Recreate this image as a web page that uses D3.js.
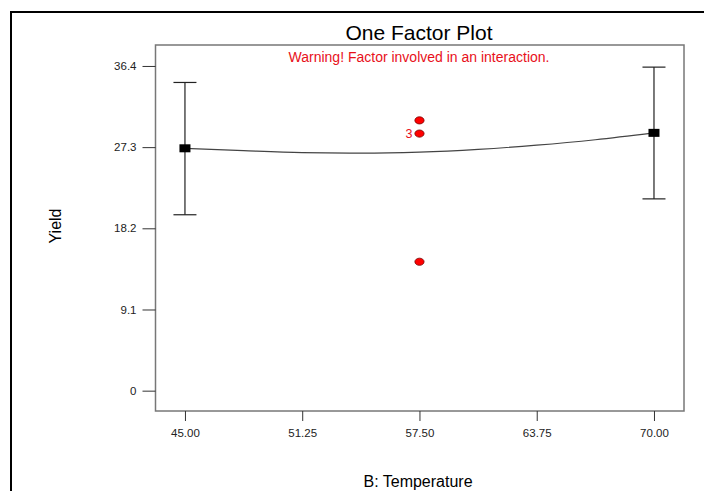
<!DOCTYPE html>
<html>
<head>
<meta charset="utf-8">
<script src="https://cdn.jsdelivr.net/npm/d3@7"></script>
<style>
  html, body { margin: 0; padding: 0; background: #fff; }
  svg { display: block; font-family: "Liberation Sans", Arial, sans-serif; }
</style>
</head>
<body>
<svg id="chart" width="704" height="491"></svg>
<script>
// ---- data ----
const xTicks = [45, 51.25, 57.5, 63.75, 70];
const yTicks = [0, 9.1, 18.2, 27.3, 36.4];
const levels = [45, 70];
const means = [27.17, 28.9];
const lower = [19.72, 21.5];
const upper = [34.55, 36.27];
const curveX = [45, 48.125, 51.25, 54.375, 57.5, 60.625, 63.75, 66.875, 70];
const curveY = [27.17, 26.9, 26.68, 26.62, 26.74, 27.05, 27.52, 28.13, 28.9];
const pointX = [57.5, 57.5, 57.5];
const pointY = [30.3, 28.82, 14.45];
const pointCounts = [1, 3, 1];
const title = "One Factor Plot";
const warning = "Warning! Factor involved in an interaction.";
const xTitle = "B: Temperature";
const yTitle = "Yield";

// ---- layout ----
const svg = d3.select("#chart");
const plot = { left: 155.5, top: 45, right: 684, bottom: 411 };

const x = d3.scaleLinear().domain([43.43, 71.6]).range([plot.left, plot.right]);
const y = d3.scaleLinear().domain([-2.28, 38.75]).range([plot.bottom, plot.top]);

// outer frame
svg.append("rect")
  .attr("x", 11).attr("y", 12).attr("width", 720).attr("height", 520)
  .attr("fill", "none").attr("stroke", "#000").attr("stroke-width", 2);

// plot box
svg.append("rect")
  .attr("x", plot.left).attr("y", plot.top)
  .attr("width", plot.right - plot.left).attr("height", plot.bottom - plot.top)
  .attr("fill", "#fff").attr("stroke", "#777").attr("stroke-width", 1.5);

// axes
const yAxis = d3.axisLeft(y).tickValues(yTicks).tickSize(13).tickPadding(6)
  .tickFormat(d => d === 0 ? "0" : d.toFixed(1));
const gy = svg.append("g").attr("transform", `translate(${plot.left},0)`).call(yAxis);
gy.select(".domain").remove();
gy.selectAll(".tick line").attr("stroke", "#333");
gy.selectAll(".tick text").attr("fill", "#222").style("font-size", "11.5px")
  .style("font-family", "'Liberation Sans', Arial, sans-serif");

const xAxis = d3.axisBottom(x).tickValues(xTicks).tickSize(10).tickPadding(8)
  .tickFormat(d3.format(".2f"));
const gx = svg.append("g").attr("transform", `translate(0,${plot.bottom})`).call(xAxis);
gx.select(".domain").remove();
gx.selectAll(".tick line").attr("stroke", "#333");
gx.selectAll(".tick text").attr("fill", "#222").style("font-size", "11.5px")
  .style("font-family", "'Liberation Sans', Arial, sans-serif");

// titles
svg.append("text").attr("x", 419).attr("y", 40).attr("text-anchor", "middle")
  .style("font-size", "21px").attr("fill", "#000").text(title);
svg.append("text").attr("x", 419).attr("y", 62).attr("text-anchor", "middle")
  .style("font-size", "14px").attr("fill", "#e8101a").text(warning);
svg.append("text").attr("x", 418).attr("y", 487).attr("text-anchor", "middle")
  .style("font-size", "16px").attr("fill", "#000").text(xTitle);
svg.append("text").attr("transform", "translate(61,226) rotate(-90)")
  .attr("text-anchor", "middle").style("font-size", "16px").attr("fill", "#000").text(yTitle);

// fitted curve
const curveData = curveX.map((v, i) => [v, curveY[i]]);
svg.append("path").datum(curveData)
  .attr("fill", "none").attr("stroke", "#444").attr("stroke-width", 1.2)
  .attr("d", d3.line().x(d => x(d[0])).y(d => y(d[1])).curve(d3.curveMonotoneX));

// error bars
const capW = 11.5;
const eb = svg.append("g").attr("stroke", "#222").attr("stroke-width", 1.2);
levels.forEach((lv, i) => {
  const cx = x(lv);
  eb.append("line").attr("x1", cx).attr("x2", cx).attr("y1", y(upper[i])).attr("y2", y(lower[i]));
  eb.append("line").attr("x1", cx - capW).attr("x2", cx + capW).attr("y1", y(upper[i])).attr("y2", y(upper[i]));
  eb.append("line").attr("x1", cx - capW).attr("x2", cx + capW).attr("y1", y(lower[i])).attr("y2", y(lower[i]));
});
svg.append("g").selectAll("rect").data(levels).join("rect")
  .attr("x", d => x(d) - 5.5).attr("y", (d, i) => y(means[i]) - 4)
  .attr("width", 11).attr("height", 8).attr("fill", "#000");

// design points
svg.append("g").selectAll("ellipse").data(pointX).join("ellipse")
  .attr("cx", d => x(d)).attr("cy", (d, i) => y(pointY[i]))
  .attr("rx", 4.6).attr("ry", 3.6)
  .attr("fill", "#f00").attr("stroke", "#700").attr("stroke-width", 0.8);
svg.append("g").selectAll("text").data(pointX.map((v, i) => i).filter(i => pointCounts[i] > 1)).join("text")
  .attr("x", i => x(pointX[i]) - 7).attr("y", i => y(pointY[i]) + 4.5)
  .attr("text-anchor", "end").style("font-size", "12.5px").attr("fill", "#e8101a")
  .text(i => pointCounts[i]);
</script>
</body>
</html>
